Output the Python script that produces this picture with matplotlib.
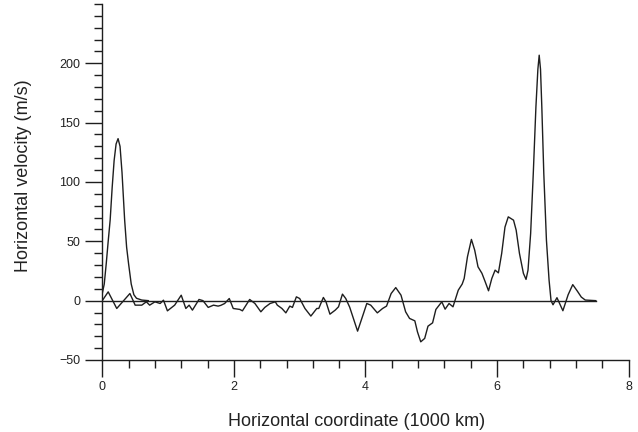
import numpy as np
import matplotlib
matplotlib.use("Agg")
from matplotlib import pyplot as plt
from matplotlib.ticker import MultipleLocator

# smooth peak near the left boundary (1000 km, m/s)
peak_x = [0.0, 0.03, 0.06, 0.09, 0.12, 0.15, 0.18, 0.21, 0.24, 0.27, 0.30,
          0.34, 0.37, 0.40, 0.44, 0.48, 0.52, 0.60, 0.70]
peak_v = [6, 14, 31, 50, 68, 95, 118, 132, 136.5, 130, 108,
          68, 45, 31, 14, 5, 2, 0.5, 0]

# wiggly profile
wig_x = [0.00, 0.09, 0.22, 0.42, 0.50, 0.60, 0.67, 0.72, 0.80, 0.88, 0.93,
         0.99, 1.10, 1.20, 1.27, 1.32, 1.37, 1.47, 1.53, 1.61, 1.69, 1.76,
         1.80, 1.86, 1.93, 1.99, 2.09, 2.13, 2.24, 2.32, 2.41, 2.47, 2.55,
         2.63, 2.66, 2.73, 2.79, 2.85, 2.89, 2.95, 3.00, 3.08, 3.17, 3.26,
         3.29, 3.36, 3.40, 3.46, 3.54, 3.59, 3.65, 3.70, 3.76, 3.88, 3.97,
         4.02, 4.08, 4.18, 4.26, 4.32, 4.39, 4.46, 4.54, 4.61, 4.67, 4.75,
         4.79, 4.84, 4.90, 4.95, 5.02, 5.07, 5.16, 5.21, 5.27, 5.33, 5.41,
         5.47, 5.50, 5.55, 5.61, 5.66, 5.71, 5.77, 5.82, 5.87, 5.92, 5.97,
         6.02, 6.07, 6.12, 6.17, 6.25, 6.29, 6.34, 6.40, 6.44, 6.47, 6.51,
         6.55, 6.59, 6.62, 6.64, 6.66, 6.68, 6.71, 6.75, 6.79, 6.82, 6.85,
         6.91, 7.00, 7.08, 7.15, 7.22, 7.28, 7.34, 7.50]
wig_v = [0, 7.4, -6.6, 6, -3.8, -3.8, -1, -3.8, -1, -2.4, 0.4,
         -8.6, -3.8, 4.6, -6.6, -3.8, -8, 1, 0, -5.7, -3.8, -4.6,
         -4, -2.4, 1.8, -6.6, -7.4, -8.6, 1, -2.4, -9.4, -5.7, -2.4,
         -1, -3.8, -6.6, -10.3, -4.6, -5.7, 3.2, 1.8, -6.6, -13, -6.6,
         -6.6, 2.7, -1, -11.4, -8, -5.2, 5.5, 1.8, -5.5, -25.7, -10.8,
         -2.4, -3.8, -10.3, -6.6, -4.6, 6, 11, 4.6, -9.4, -15, -17,
         -26.3, -34.7, -31.8, -21.5, -18.7, -7.4, -1, -7.2, -2.4, -5.2, 8.8,
         14, 18.7, 37, 51.6, 42.5, 28.5, 23, 15.8, 8.3, 18.7, 25.7,
         23.4, 39.8, 62, 70.6, 67.8, 59.4, 39.8, 23, 17.9, 25.7, 56.6,
         107, 163, 195, 206.8, 195, 163, 107, 51, 17.3, 0, -3.5,
         2.5, -8.5, 5, 13.5, 8, 3, 0.5, 0]

zero_x = [0.0, 7.5]
zero_v = [0, 0]

plt.rcParams["font.family"] = ["Liberation Sans", "DejaVu Sans"]

fig = plt.figure(figsize=(6.38, 4.32), dpi=100)
ax = fig.add_axes([0.1603, 0.1667, 0.8251, 0.8242])

ink = "#1e1e1e"
ax.plot(zero_x, zero_v, color=ink, lw=1.0)
ax.plot(peak_x, peak_v, color=ink, lw=1.0)
ax.plot(wig_x, wig_v, color=ink, lw=1.0)

ax.set_xlim(0, 8)
ax.set_ylim(-50, 250)
ax.spines[["top", "right"]].set_visible(False)
for s in ("left", "bottom"):
    ax.spines[s].set_linewidth(1.0)
    ax.spines[s].set_color(ink)

ax.xaxis.set_major_locator(MultipleLocator(2))
ax.xaxis.set_minor_locator(MultipleLocator(0.4))
ax.set_yticks([-50, 0, 50, 100, 150, 200])
ax.yaxis.set_minor_locator(MultipleLocator(10))
ax.set_yticklabels(["\u221250", "0", "50", "100", "150", "200"])

ax.tick_params(which="major", length=12.2, width=1.0, color=ink,
               labelsize=9, labelcolor="#222222")
ax.tick_params(which="minor", length=5.8, width=1.0, color=ink)
ax.tick_params(axis="y", which="major", pad=3.6)
ax.tick_params(axis="x", which="major", pad=3.2)

fig.text(357 / 638, 1 - 426 / 432, "Horizontal coordinate (1000 km)",
         ha="center", va="baseline", fontsize=13, color="#222222")
fig.text(24 / 638, 1 - 175.5 / 432, "Horizontal velocity (m/s)",
         ha="center", va="center", rotation=90, fontsize=13, color="#222222")

fig.savefig("out.png", dpi=100)
